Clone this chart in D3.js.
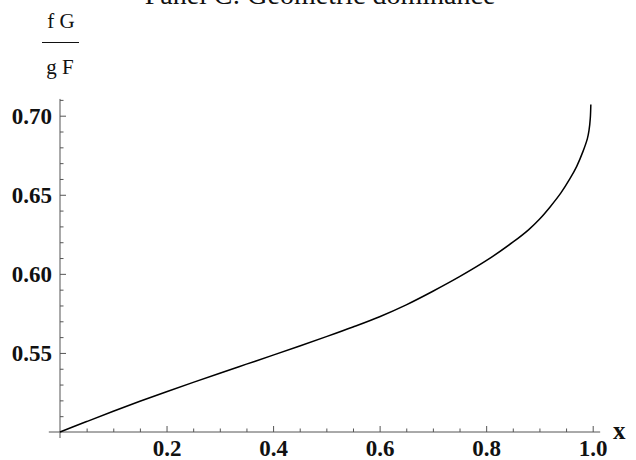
<!DOCTYPE html>
<html>
<head>
<meta charset="utf-8">
<style>
  body { margin: 0; background: #fff; }
  svg { display: block; font-family: "Liberation Serif", "DejaVu Serif", serif; }
</style>
</head>
<body>
<div id="chart"></div>
<script src="https://d3js.org/d3.v7.min.js"></script>
<script>
// values
const xValues = [0, 0.05, 0.1, 0.15, 0.2, 0.25, 0.3, 0.35, 0.4, 0.45, 0.5, 0.55, 0.6, 0.65,
  0.7, 0.75, 0.8, 0.85, 0.88, 0.9, 0.92, 0.94, 0.957, 0.97, 0.982, 0.99, 0.993, 0.9955, 0.9965];
const ratioValues = [0.5, 0.5066, 0.5131, 0.5194, 0.5255, 0.5314, 0.5372, 0.5429, 0.5486, 0.5544,
  0.5603, 0.5664, 0.5729, 0.5804, 0.589, 0.5982, 0.6083, 0.62, 0.628, 0.6345, 0.6423, 0.651,
  0.66, 0.668, 0.6776, 0.6855, 0.6905, 0.6985, 0.7071];

const xMajor = [0.2, 0.4, 0.6, 0.8, 1.0];
const xMinor = [0.05, 0.1, 0.15, 0.25, 0.3, 0.35, 0.45, 0.5, 0.55, 0.65, 0.7, 0.75, 0.85, 0.9, 0.95];
const yMajor = [0.55, 0.60, 0.65, 0.70];
const yMinor = [0.51, 0.52, 0.53, 0.54, 0.56, 0.57, 0.58, 0.59, 0.61, 0.62, 0.63, 0.64,
  0.66, 0.67, 0.68, 0.69, 0.71];

const title = "Panel C: Geometric dominance";

const width = 636, height = 460;

const x = d3.scaleLinear().domain([0, 1]).range([60, 592.7]);
const y = d3.scaleLinear().domain([0.5, 0.7]).range([432, 115.7]);

const svg = d3.select("#chart").append("svg")
    .attr("width", width)
    .attr("height", height);

// title, cut by the top edge like in the original
svg.append("text")
    .attr("x", 320)
    .attr("y", 4)
    .attr("text-anchor", "middle")
    .attr("font-size", 28)
    .attr("fill", "#111")
    .text(title);

const axisColor = "#555";

// x axis
const gx = svg.append("g").attr("transform", `translate(0,${y(0.5)})`);
gx.call(d3.axisBottom(x).tickValues(xMajor).tickSize(-6).tickPadding(8)
    .tickFormat(d3.format(".1f")).tickSizeOuter(0));
gx.append("g").call(d3.axisBottom(x).tickValues(xMinor).tickSize(-3.5).tickFormat(""));
gx.selectAll(".domain").remove();
gx.append("line")
    .attr("x1", x(-0.021)).attr("x2", x(1.014))
    .attr("stroke", axisColor);

// y axis
const gy = svg.append("g").attr("transform", `translate(${x(0)},0)`);
gy.call(d3.axisLeft(y).tickValues(yMajor).tickSize(-6).tickPadding(8)
    .tickFormat(d3.format(".2f")).tickSizeOuter(0));
gy.append("g").call(d3.axisLeft(y).tickValues(yMinor).tickSize(-3.5).tickFormat(""));
gy.selectAll(".domain").remove();
gy.append("line")
    .attr("y1", y(0.4962)).attr("y2", y(0.7106))
    .attr("stroke", axisColor);

svg.selectAll(".tick line").attr("stroke", axisColor);
svg.selectAll(".tick text")
    .attr("font-family", "Liberation Serif, serif")
    .attr("font-size", 23)
    .attr("font-weight", "bold")
    .attr("fill", "#111");

// axis labels
svg.append("text")
    .attr("x", 613).attr("y", 439)
    .attr("font-size", 25)
    .attr("font-weight", "bold")
    .attr("fill", "#111")
    .text("x");

const frac = svg.append("g").attr("fill", "#111").attr("font-size", 21).attr("text-anchor", "middle");
frac.append("text").attr("x", 61).attr("y", 28).text("f G");
frac.append("text").attr("x", 60).attr("y", 74).text("g F");
svg.append("line")
    .attr("x1", 42).attr("x2", 79)
    .attr("y1", 42.5).attr("y2", 42.5)
    .attr("stroke", "#111").attr("stroke-width", 1.2);

// the curve
const line = d3.line()
    .x((d, i) => x(xValues[i]))
    .y(d => y(d))
    .curve(d3.curveCatmullRom.alpha(0.5));

svg.append("path")
    .datum(ratioValues)
    .attr("fill", "none")
    .attr("stroke", "#000")
    .attr("stroke-width", 1.5)
    .attr("d", line);
</script>
</body>
</html>
